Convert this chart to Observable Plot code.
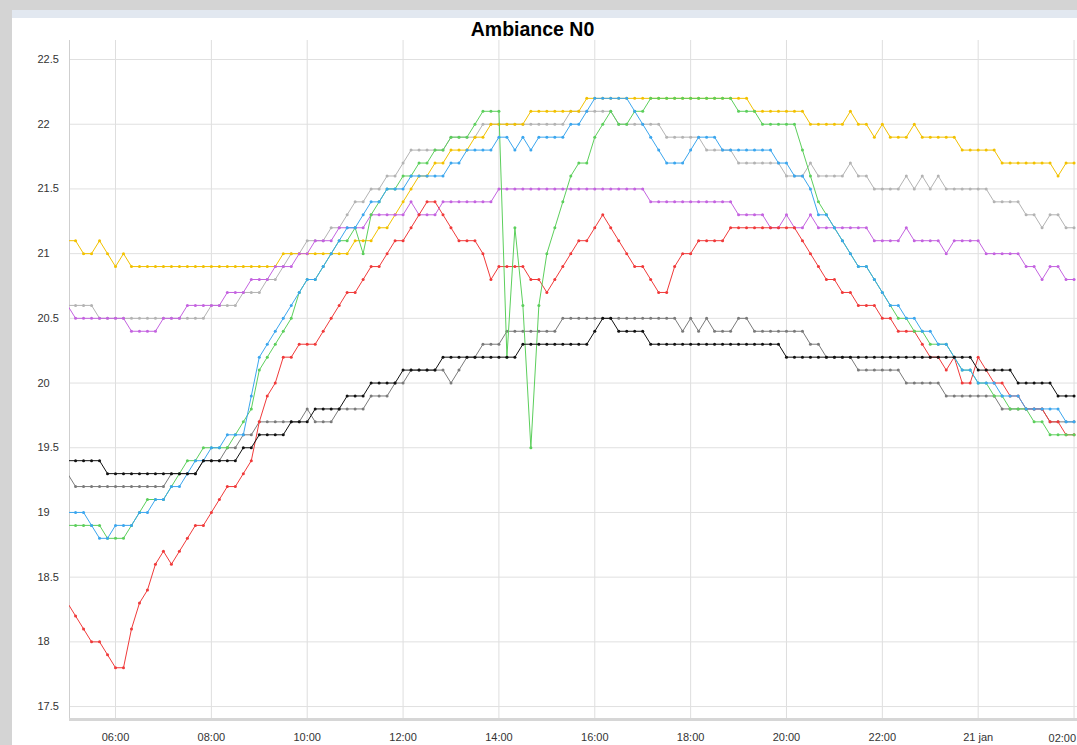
<!DOCTYPE html>
<html><head><meta charset="utf-8">
<script src="https://cdn.jsdelivr.net/npm/d3@7"></script>
<script src="https://cdn.jsdelivr.net/npm/@observablehq/plot@0.6"></script>
<style>
html,body{margin:0;padding:0;background:#fff;width:1077px;height:745px;overflow:hidden;}
#frameL{position:absolute;left:0;top:0;width:12px;height:745px;background:#d4d4d4;z-index:2;}
#frameT{position:absolute;left:0;top:0;width:1077px;height:10px;background:#d4d4d4;z-index:2;}
#strip{position:absolute;left:12px;top:10px;width:1065px;height:8px;background:#e2e8f0;z-index:2;}
#chart{position:absolute;left:0;top:0;z-index:1;}
#title{position:absolute;left:0;width:1065px;top:18px;text-align:center;font:bold 19.5px "Liberation Sans",Arial,sans-serif;color:#000;z-index:3;}
</style>
</head><body>
<div id="frameL"></div><div id="frameT"></div><div id="strip"></div>
<div id="title">Ambiance N0</div>
<div id="chart"></div>
<script>
// 10-minute samples starting 20 Jan 05:00
const startTime = Date.UTC(2021, 0, 20, 5, 0);
const stepMinutes = 10;

const yellow = [
 21.1,21.1,21.0,21.0,21.1,21.0,20.9,21.0,20.9,20.9,20.9,20.9,
 20.9,20.9,20.9,20.9,20.9,20.9,20.9,20.9,20.9,20.9,20.9,20.9,
 20.9,20.9,20.9,21.0,21.0,21.0,21.0,21.0,21.0,21.0,21.0,21.0,
 21.1,21.1,21.1,21.2,21.2,21.3,21.4,21.5,21.6,21.6,21.7,21.7,
 21.8,21.8,21.8,21.9,21.9,22.0,22.0,22.0,22.0,22.0,22.1,22.1,
 22.1,22.1,22.1,22.1,22.1,22.2,22.2,22.2,22.2,22.2,22.2,22.2,
 22.2,22.2,22.2,22.2,22.2,22.2,22.2,22.2,22.2,22.2,22.2,22.2,
 22.2,22.2,22.1,22.1,22.1,22.1,22.1,22.1,22.1,22.0,22.0,22.0,
 22.0,22.0,22.1,22.0,22.0,21.9,22.0,21.9,21.9,21.9,22.0,21.9,
 21.9,21.9,21.9,21.9,21.8,21.8,21.8,21.8,21.8,21.7,21.7,21.7,
 21.7,21.7,21.7,21.7,21.6,21.7,21.7];
const lightGrey = [
 20.6,20.6,20.6,20.6,20.5,20.5,20.5,20.5,20.5,20.5,20.5,20.5,
 20.5,20.5,20.5,20.5,20.5,20.5,20.6,20.6,20.6,20.6,20.7,20.7,
 20.7,20.8,20.8,20.9,21.0,21.0,21.1,21.1,21.1,21.2,21.2,21.3,
 21.4,21.4,21.5,21.5,21.6,21.6,21.7,21.8,21.8,21.8,21.8,21.8,
 21.9,21.9,21.9,21.9,22.0,22.0,22.0,22.0,22.0,22.0,22.0,22.0,
 22.0,22.0,22.0,22.1,22.1,22.1,22.1,22.1,22.1,22.0,22.0,22.0,
 22.0,22.0,22.0,21.9,21.9,21.9,21.9,21.9,21.8,21.8,21.8,21.8,
 21.7,21.7,21.7,21.7,21.7,21.7,21.6,21.6,21.6,21.7,21.6,21.6,
 21.6,21.6,21.7,21.6,21.6,21.5,21.5,21.5,21.5,21.6,21.5,21.6,
 21.5,21.6,21.5,21.5,21.5,21.5,21.5,21.5,21.4,21.4,21.4,21.4,
 21.3,21.3,21.2,21.3,21.3,21.2,21.2];
const purple = [
 20.6,20.5,20.5,20.5,20.5,20.5,20.5,20.5,20.4,20.4,20.4,20.4,
 20.5,20.5,20.5,20.6,20.6,20.6,20.6,20.6,20.7,20.7,20.7,20.8,
 20.8,20.8,20.9,20.9,20.9,21.0,21.0,21.1,21.1,21.1,21.2,21.2,
 21.2,21.2,21.3,21.3,21.3,21.3,21.3,21.4,21.3,21.3,21.3,21.4,
 21.4,21.4,21.4,21.4,21.4,21.4,21.5,21.5,21.5,21.5,21.5,21.5,
 21.5,21.5,21.5,21.5,21.5,21.5,21.5,21.5,21.5,21.5,21.5,21.5,
 21.5,21.4,21.4,21.4,21.4,21.4,21.4,21.4,21.4,21.4,21.4,21.4,
 21.3,21.3,21.3,21.3,21.2,21.2,21.3,21.2,21.2,21.3,21.2,21.2,
 21.2,21.2,21.2,21.2,21.2,21.1,21.1,21.1,21.1,21.2,21.1,21.1,
 21.1,21.1,21.0,21.1,21.1,21.1,21.1,21.0,21.0,21.0,21.0,21.0,
 20.9,20.9,20.8,20.9,20.9,20.8,20.8];
const red = [
 18.3,18.2,18.1,18.0,18.0,17.9,17.8,17.8,18.1,18.3,18.4,18.6,
 18.7,18.6,18.7,18.8,18.9,18.9,19.0,19.1,19.2,19.2,19.3,19.4,
 19.7,19.9,20.0,20.2,20.2,20.3,20.3,20.3,20.4,20.5,20.6,20.7,
 20.7,20.8,20.9,20.9,21.0,21.1,21.1,21.2,21.3,21.4,21.4,21.3,
 21.2,21.1,21.1,21.1,21.0,20.8,20.9,20.9,20.9,20.9,20.8,20.8,
 20.7,20.8,20.9,21.0,21.1,21.1,21.2,21.3,21.2,21.1,21.0,20.9,
 20.9,20.8,20.7,20.7,20.9,21.0,21.0,21.1,21.1,21.1,21.1,21.2,
 21.2,21.2,21.2,21.2,21.2,21.2,21.2,21.2,21.1,21.0,20.9,20.8,
 20.8,20.7,20.7,20.6,20.6,20.6,20.5,20.5,20.4,20.4,20.4,20.3,
 20.2,20.2,20.1,20.2,20.0,20.0,20.2,20.1,20.0,20.0,19.9,19.9,
 19.8,19.8,19.8,19.7,19.7,19.6,19.6];
const green = [
 18.9,18.9,18.9,18.9,18.9,18.8,18.8,18.8,18.9,19.0,19.1,19.1,
 19.1,19.2,19.3,19.4,19.4,19.5,19.5,19.5,19.5,19.6,19.7,19.8,
 20.1,20.2,20.3,20.4,20.5,20.7,20.8,20.8,20.9,21.0,21.1,21.1,
 21.2,21.0,21.3,21.4,21.5,21.5,21.6,21.6,21.7,21.7,21.8,21.8,
 21.9,21.9,21.9,22.0,22.1,22.1,22.1,20.2,21.2,20.6,19.5,20.6,
 21.0,21.2,21.4,21.6,21.7,21.7,21.9,22.0,22.1,22.0,22.0,22.1,
 22.1,22.2,22.2,22.2,22.2,22.2,22.2,22.2,22.2,22.2,22.2,22.2,
 22.1,22.1,22.1,22.0,22.0,22.0,22.0,22.0,21.8,21.6,21.4,21.3,
 21.2,21.1,21.0,20.9,20.9,20.8,20.7,20.6,20.5,20.5,20.4,20.4,
 20.3,20.3,20.3,20.2,20.1,20.1,20.0,20.0,19.9,19.9,19.8,19.8,
 19.8,19.7,19.7,19.6,19.6,19.6,19.6];
const blue = [
 19.0,19.0,19.0,18.9,18.8,18.8,18.9,18.9,18.9,19.0,19.0,19.1,
 19.1,19.2,19.2,19.3,19.4,19.4,19.5,19.5,19.6,19.6,19.6,19.9,
 20.2,20.3,20.4,20.5,20.6,20.7,20.8,20.8,20.9,21.0,21.1,21.2,
 21.2,21.3,21.4,21.4,21.5,21.5,21.5,21.6,21.6,21.6,21.6,21.6,
 21.7,21.7,21.8,21.8,21.8,21.8,21.9,21.9,21.8,21.9,21.8,21.9,
 21.9,21.9,21.9,22.0,22.0,22.1,22.2,22.2,22.2,22.2,22.2,22.1,
 22.0,21.9,21.8,21.7,21.7,21.7,21.8,21.9,21.9,21.9,21.8,21.8,
 21.8,21.8,21.8,21.8,21.8,21.7,21.7,21.6,21.6,21.5,21.3,21.3,
 21.2,21.1,21.0,20.9,20.9,20.8,20.7,20.6,20.6,20.5,20.5,20.4,
 20.4,20.3,20.3,20.2,20.1,20.1,20.0,20.0,20.0,19.9,19.9,19.9,
 19.8,19.8,19.8,19.8,19.8,19.7,19.7];
const black = [
 19.4,19.4,19.4,19.4,19.4,19.3,19.3,19.3,19.3,19.3,19.3,19.3,
 19.3,19.3,19.3,19.3,19.3,19.4,19.4,19.4,19.4,19.4,19.5,19.5,
 19.6,19.6,19.6,19.6,19.7,19.7,19.7,19.8,19.8,19.8,19.8,19.9,
 19.9,19.9,20.0,20.0,20.0,20.0,20.1,20.1,20.1,20.1,20.1,20.2,
 20.2,20.2,20.2,20.2,20.2,20.2,20.2,20.2,20.2,20.3,20.3,20.3,
 20.3,20.3,20.3,20.3,20.3,20.3,20.4,20.5,20.5,20.4,20.4,20.4,
 20.4,20.3,20.3,20.3,20.3,20.3,20.3,20.3,20.3,20.3,20.3,20.3,
 20.3,20.3,20.3,20.3,20.3,20.3,20.2,20.2,20.2,20.2,20.2,20.2,
 20.2,20.2,20.2,20.2,20.2,20.2,20.2,20.2,20.2,20.2,20.2,20.2,
 20.2,20.2,20.2,20.2,20.2,20.2,20.1,20.1,20.1,20.1,20.1,20.0,
 20.0,20.0,20.0,20.0,19.9,19.9,19.9];
const darkGrey = [
 19.3,19.2,19.2,19.2,19.2,19.2,19.2,19.2,19.2,19.2,19.2,19.2,
 19.2,19.3,19.3,19.3,19.3,19.4,19.4,19.4,19.5,19.5,19.6,19.6,
 19.7,19.7,19.7,19.7,19.7,19.7,19.8,19.7,19.7,19.7,19.8,19.8,
 19.8,19.8,19.9,19.9,19.9,20.0,20.0,20.1,20.1,20.1,20.1,20.1,
 20.0,20.1,20.2,20.2,20.3,20.3,20.3,20.4,20.4,20.4,20.4,20.4,
 20.4,20.4,20.5,20.5,20.5,20.5,20.5,20.5,20.5,20.5,20.5,20.5,
 20.5,20.5,20.5,20.5,20.5,20.4,20.5,20.4,20.5,20.4,20.4,20.4,
 20.5,20.5,20.4,20.4,20.4,20.4,20.4,20.4,20.4,20.3,20.3,20.2,
 20.2,20.2,20.2,20.1,20.1,20.1,20.1,20.1,20.1,20.0,20.0,20.0,
 20.0,20.0,19.9,19.9,19.9,19.9,19.9,19.9,19.9,19.8,19.8,19.8,
 19.8,19.8,19.8,19.7,19.7,19.7,19.7];

const seriesList = [
  {key: "lightGrey", values: lightGrey, color: "#b3b3b3"},
  {key: "darkGrey", values: darkGrey, color: "#7a7a7a"},
  {key: "yellow", values: yellow, color: "#f2c100"},
  {key: "purple", values: purple, color: "#c463e0"},
  {key: "red", values: red, color: "#f03a3a"},
  {key: "green", values: green, color: "#5ccf5c"},
  {key: "blue", values: blue, color: "#3ba6ee"},
  {key: "black", values: black, color: "#111111"}
];

const yTicks = [17.5, 18, 18.5, 19, 19.5, 20, 20.5, 21, 21.5, 22, 22.5];
const xTicks = d3.utcHour.every(2).range(new Date(Date.UTC(2021,0,20,6)), new Date(Date.UTC(2021,0,21,3)));
const xDomain = [new Date(Date.UTC(2021,0,20,5,2,24)), new Date(Date.UTC(2021,0,21,2,4,20))];
const yDomain = [17.4, 22.647];
const fmtTime = d => d.getUTCHours() === 0 ? "21 jan" : d3.utcFormat("%H:%M")(d);
const lastTick = xTicks[xTicks.length - 1];
const innerTicks = xTicks.slice(0, -1);

const marks = [
  Plot.gridX(xTicks, {stroke: "#dedede", strokeOpacity: 1}),
  Plot.gridY(yTicks, {stroke: "#e0e0e0", strokeOpacity: 1}),
  Plot.ruleX([xDomain[0]], {stroke: "#cfcfcf"}),
  Plot.ruleY([yDomain[0]], {stroke: "#d6d6d6", strokeWidth: 3})
];
for (const s of seriesList) {
  const rows = s.values.map((v, i) => ({t: new Date(startTime + i * stepMinutes * 60000), v}));
  marks.push(Plot.line(rows, {x: "t", y: "v", stroke: s.color, strokeWidth: 1, clip: true}));
  marks.push(Plot.dot(rows, {x: "t", y: "v", r: 1.5, fill: s.color, stroke: null, clip: true}));
}
marks.push(Plot.axisX(innerTicks, {tickSize: 0, tickPadding: 14, tickFormat: fmtTime, label: null, fill: "#333"}));
// last label kept inside the frame, right-aligned like the reference
marks.push(Plot.text([lastTick], {x: d => d, frameAnchor: "bottom", dy: 19, text: d => fmtTime(d), textAnchor: "end", dx: 2, fill: "#333", lineAnchor: "middle"}));
marks.push(Plot.axisY(yTicks, {tickSize: 0, tickPadding: 0, textAnchor: "start", dx: -32, tickFormat: d => String(d), label: null, fill: "#333"}));

const chart = Plot.plot({
  width: 1077, height: 745,
  marginLeft: 69, marginRight: 0, marginTop: 40, marginBottom: 26,
  style: {background: "transparent", fontFamily: "'Liberation Sans', Arial, sans-serif", fontSize: "11px"},
  x: {type: "utc", domain: xDomain},
  y: {domain: yDomain},
  marks
});
document.getElementById("chart").appendChild(chart);
</script>
</body></html>
